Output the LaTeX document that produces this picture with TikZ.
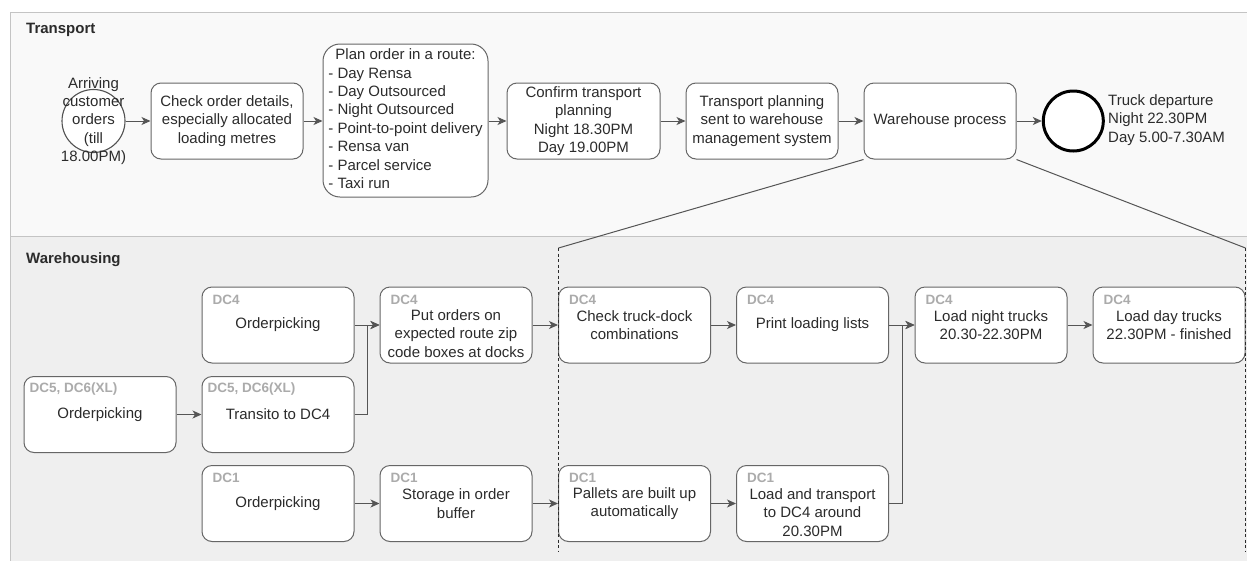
\documentclass[tikz,border=0pt]{standalone}
\usepackage{fontspec}
\setmainfont{Liberation Sans}
\usetikzlibrary{arrows.meta,calc}

\definecolor{lanefillA}{HTML}{F9F9F9}
\definecolor{lanefillB}{HTML}{EFEFEF}
\definecolor{laneline}{HTML}{C4C4C4}
\definecolor{boxline}{HTML}{666666}
\definecolor{ink}{HTML}{2B2B2B}
\definecolor{tagink}{HTML}{ABABAB}
\definecolor{wire}{HTML}{555555}

\tikzset{
  every node/.style={font=\fontsize{15}{18.4}\selectfont, text=ink},
  lanetitle/.style={font=\bfseries\fontsize{15}{18}\selectfont, anchor=west, inner sep=0pt},
  stepbox/.style={draw=boxline, fill=white, line width=1pt, rounded corners=10pt,
    minimum width=152pt, minimum height=76pt, inner sep=0pt, align=center},
  boxtext/.style={inner sep=0pt, align=center},
  dctag/.style={font=\bfseries\fontsize{13.5}{16}\selectfont, text=tagink, anchor=west, inner sep=0pt},
  startev/.style={circle, draw=boxline!80!black, fill=white, line width=1.1pt, minimum size=63pt, inner sep=0pt},
  endev/.style={circle, draw=black, fill=white, line width=3pt, minimum size=60pt, inner sep=0pt},
  flow/.style={draw=wire, line width=1pt, -{Stealth[length=9pt, width=8pt, inset=2.5pt]}},
  zoomline/.style={draw=wire, line width=1pt},
  zoomedge/.style={draw=ink, line width=1.1pt, dash pattern=on 3pt off 2.5pt},
}

% a process step of the warehouse lane: box, site tag and step text
% #1 name, #2 centre, #3 site tag, #4 tag indent, #5 text, #6 text offset
\newcommand\dcnode[6]{%
  \node[stepbox] (#1) at (#2) {};
  \node[boxtext] (#1-t) at ([yshift=#6]#1.center) {#5};
  \node[dctag] (#1-g) at ([xshift=#4, yshift=-13pt]#1.north west) {#3};
}

\begin{document}
\begin{tikzpicture}[x=1pt,y=-1pt]
\useasboundingbox (0,0) rectangle (1247,560);

% swimlanes
\begin{scope}
  \clip (0,0) rectangle (1247,560);
  \draw[laneline, fill=lanefillA, line width=1pt] (10.5,12.5) rectangle (1270,236);
  \draw[laneline, fill=lanefillB, line width=1pt] (10.5,236) rectangle (1270,590);
\end{scope}
\node[lanetitle] (transportT) at (26,30) {Transport};
\node[lanetitle] (warehouseT) at (26,260) {Warehousing};

% transport lane
\node[startev] (arr) at (93.5,121) {};
\node[boxtext] (arr-t) at (arr.center) {Arriving\\customer\\orders\\(till\\18.00PM)};
\node[stepbox] (chk) at (227,121) {Check order details,\\especially allocated\\loading metres};
\node[stepbox, minimum width=165pt, minimum height=153pt, rounded corners=17pt] (plan) at (405.5,120.5)
  {\begin{tabular}{@{}l@{}}
    \multicolumn{1}{@{}c@{}}{Plan order in a route:}\\
    - Day Rensa\\
    - Day Outsourced\\
    - Night Outsourced\\
    - Point-to-point delivery\\
    - Rensa van\\
    - Parcel service\\
    - Taxi run
  \end{tabular}};
\node[stepbox, minimum width=153pt] (conf) at (583.5,121) {Confirm transport\\planning\\Night 18.30PM\\Day 19.00PM};
\node[stepbox] (tps) at (762,121) {Transport planning\\sent to warehouse\\management system};
\node[stepbox] (whp) at (940,121) {Warehouse process};
\node[endev] (dep) at (1073.3,121) {};
\node[boxtext, anchor=west, align=left] (dep-t) at (1108,120) {Truck departure\\Night 22.30PM\\Day 5.00-7.30AM};

\draw[flow] (arr) -- (chk);
\draw[flow] (chk.east) -- (chk.east -| plan.west);
\draw[flow] (plan.east |- conf.west) -- (conf.west);
\draw[flow] (conf) -- (tps);
\draw[flow] (tps) -- (whp);
\draw[flow] (whp) -- (dep);

% warehousing lane
\dcnode{opA}{100,414.5}{DC5, DC6(XL)}{6pt}{Orderpicking}{0pt}
\dcnode{tra}{278,414.5}{DC5, DC6(XL)}{6pt}{Transito to DC4}{0pt}
\dcnode{opF}{278,325}{DC4}{11pt}{Orderpicking}{0pt}
\dcnode{opO}{278,503.5}{DC1}{11pt}{Orderpicking}{0pt}
\dcnode{put}{456,325}{DC4}{11pt}{Put orders on\\expected route zip\\code boxes at docks}{-8.5pt}
\dcnode{sto}{456,503.5}{DC1}{11pt}{Storage in order\\buffer}{0pt}
\dcnode{ctd}{634.5,325}{DC4}{11pt}{Check truck-dock\\combinations}{0pt}
\dcnode{pal}{634.5,503.5}{DC1}{11pt}{Pallets are built up\\automatically}{0pt}
\dcnode{prt}{812.5,325}{DC4}{11pt}{Print loading lists}{0pt}
\dcnode{lat}{812.5,503.5}{DC1}{11pt}{Load and transport\\to DC4 around\\20.30PM}{-9pt}
\dcnode{lnt}{991,325}{DC4}{11pt}{Load night trucks\\20.30-22.30PM}{0pt}
\dcnode{ldt}{1169,325}{DC4}{11pt}{Load day trucks\\22.30PM - finished}{0pt}

\draw[flow] (opA) -- (tra);
\draw[flow] (opF) -- (put);
\draw[flow] (tra.east) -- ++(13,0) |- (put.west);
\draw[flow] (opO) -- (sto);
\draw[flow] (put) -- (ctd);
\draw[flow] (sto) -- (pal);
\draw[flow] (ctd) -- (prt);
\draw[flow] (pal) -- (lat);
\draw[flow] (prt) -- (lnt);
\draw[flow] (lat.east) -- ++(13,0) |- (lnt.west);
\draw[flow] (lnt) -- (ldt);

% detail frame of the warehouse process
\coordinate (zl) at (558.5,248);
\coordinate (zlb) at (558.5,552);
\coordinate (zr) at (1245.5,248);
\coordinate (zrb) at (1245.5,552);
\draw[zoomline] (whp.south west) -- (zl);
\draw[zoomline] (whp.south east) -- (zr);
\draw[zoomedge] (zl) -- (zlb);
\draw[zoomedge] (zr) -- (zrb);
\end{tikzpicture}
\end{document}
